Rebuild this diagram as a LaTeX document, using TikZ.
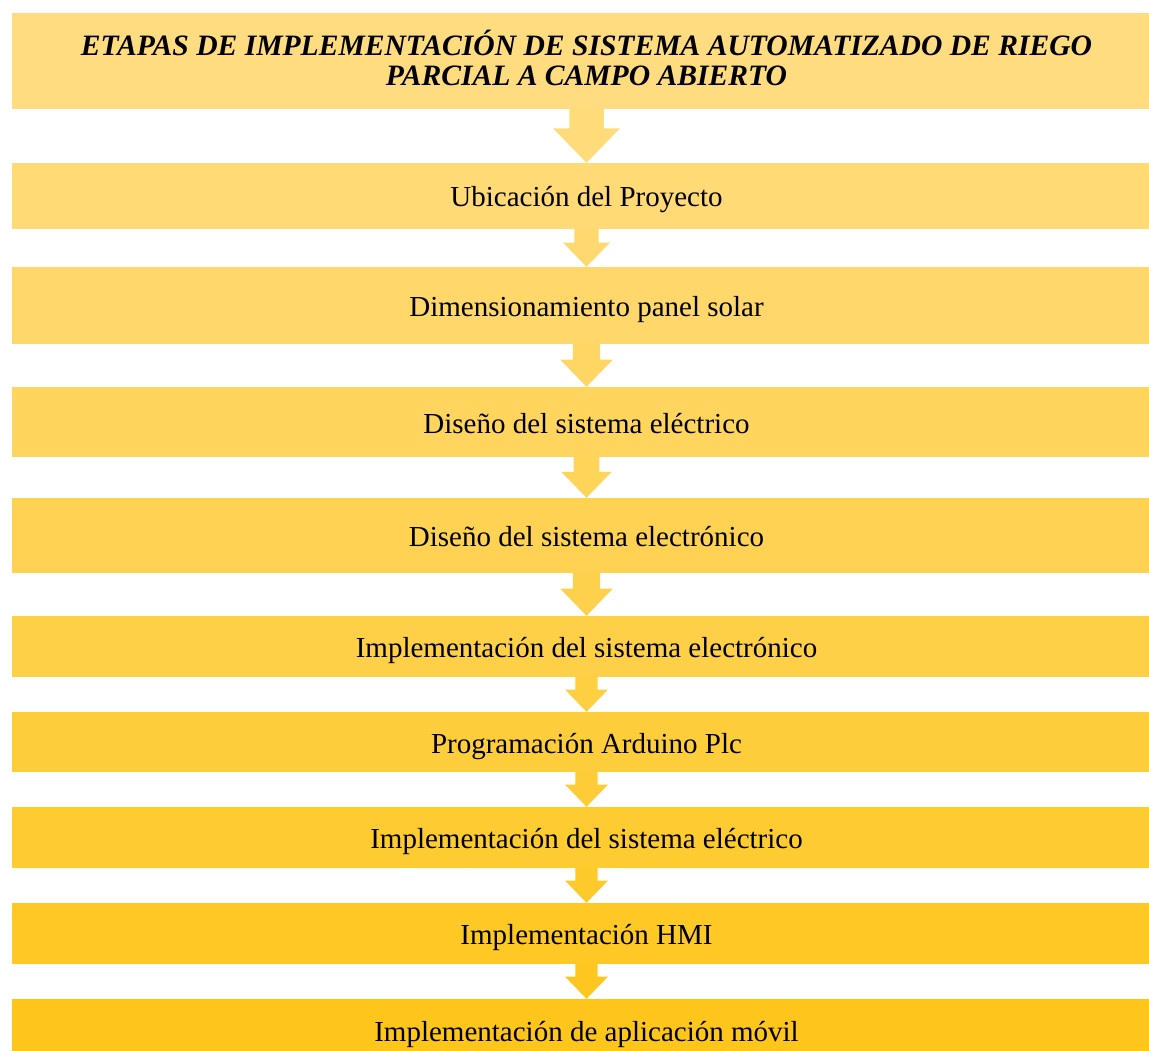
\documentclass[tikz,border=0pt]{standalone}
\usepackage{fontspec}
\setmainfont{Liberation Serif}
\usetikzlibrary{calc}

% shades running from the first stage to the last one
\definecolor{topc}{RGB}{255,220,128}
\definecolor{botc}{RGB}{254,198,26}
\colorlet{s0}{botc!0!topc}
\colorlet{s1}{botc!11!topc}
\colorlet{s2}{botc!22!topc}
\colorlet{s3}{botc!33!topc}
\colorlet{s4}{botc!44!topc}
\colorlet{s5}{botc!56!topc}
\colorlet{s6}{botc!67!topc}
\colorlet{s7}{botc!78!topc}
\colorlet{s8}{botc!89!topc}
\colorlet{s9}{botc!100!topc}

\tikzset{
  stagebox/.style={rectangle, inner sep=0pt, minimum width=1149pt,
    align=center, text=black,
    font=\fontsize{29}{30}\selectfont,
    text height=25pt, text depth=3pt}
}

% block arrow from the lower edge of #1 to the upper edge of #2
\newcommand\flowarrow[3]{%
  \fill[#3] let \p1=(#1.south), \p2=(#2.north), \n1={\y1-\y2} in
    (\x1-0.32*\n1,\y1+0.6pt) -- (\x1-0.32*\n1,\y1-0.36*\n1)
    -- (\x1-0.62*\n1,\y1-0.36*\n1) -- (\x1,\y2)
    -- (\x1+0.62*\n1,\y1-0.36*\n1) -- (\x1+0.32*\n1,\y1-0.36*\n1)
    -- (\x1+0.32*\n1,\y1+0.6pt) -- cycle;}

\begin{document}
\begin{tikzpicture}[x=1pt,y=-1pt]
\useasboundingbox (0,0) rectangle (1149,1051);
\clip (0,0) rectangle (1149,1051);

\node[stagebox, fill=s0, minimum height=95.7pt] (t) at (586.5,60.85) {};
\node[align=center, inner sep=0pt,
      font=\fontsize{29.6}{30}\selectfont\bfseries\itshape]
  (tt) at (586.5,58) {ETAPAS DE IMPLEMENTACIÓN DE SISTEMA AUTOMATIZADO DE RIEGO\\PARCIAL A CAMPO ABIERTO};
\node[stagebox, fill=s1, minimum height=66pt] (b2) at (586.5,196) {Ubicación del Proyecto};
\node[stagebox, fill=s2, minimum height=77pt] (b3) at (586.5,305.5) {Dimensionamiento panel solar};
\node[stagebox, fill=s3, minimum height=70pt] (b4) at (586.5,422) {Diseño del sistema eléctrico};
\node[stagebox, fill=s4, minimum height=75pt] (b5) at (586.5,535.5) {Diseño del sistema electrónico};
\node[stagebox, fill=s5, minimum height=61pt] (b6) at (586.5,646.5) {Implementación del sistema electrónico};
\node[stagebox, fill=s6, minimum height=60pt] (b7) at (586.5,742) {Programación Arduino Plc};
\node[stagebox, fill=s7, minimum height=61pt] (b8) at (586.5,837.5) {Implementación del sistema eléctrico};
\node[stagebox, fill=s8, minimum height=61pt] (b9) at (586.5,933.5) {Implementación HMI};
\node[stagebox, fill=s9, minimum height=62pt] (b10) at (586.5,1030) {Implementación de aplicación móvil};

\flowarrow{t}{b2}{s0!50!s1}
\flowarrow{b2}{b3}{s1!50!s2}
\flowarrow{b3}{b4}{s2!50!s3}
\flowarrow{b4}{b5}{s3!50!s4}
\flowarrow{b5}{b6}{s4!50!s5}
\flowarrow{b6}{b7}{s5!50!s6}
\flowarrow{b7}{b8}{s6!50!s7}
\flowarrow{b8}{b9}{s7!50!s8}
\flowarrow{b9}{b10}{s8!50!s9}
\end{tikzpicture}
\end{document}
